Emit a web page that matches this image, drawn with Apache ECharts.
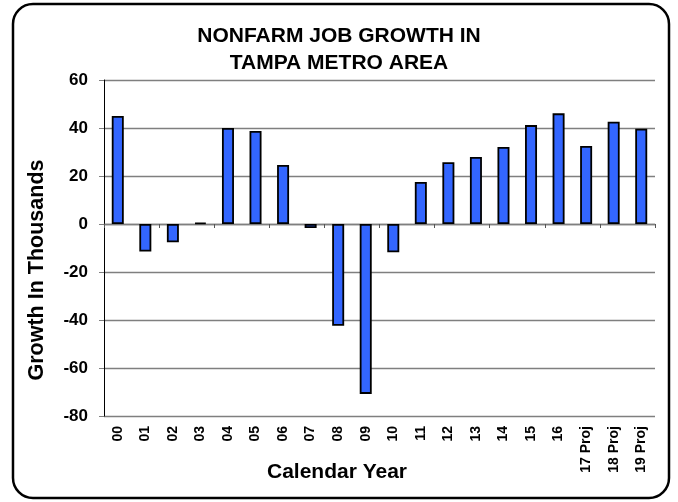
<!DOCTYPE html>
<html>
<head>
<meta charset="utf-8">
<script src="https://cdn.jsdelivr.net/npm/echarts@6/dist/echarts.min.js"></script>
<style>
html,body{margin:0;padding:0;background:#fff;}
#chart{width:678px;height:502px;}
</style>
</head>
<body>
<div id="chart"></div>
<script>
const categories = ['00','01','02','03','04','05','06','07','08','09','10','11','12','13','14','15','16','17 Proj','18 Proj','19 Proj'];
const jobGrowth = [45, -11.5, -7.6, 0.5, 40, 38.8, 24.6, -1.7, -42.4, -70.8, -11.8, 17.5, 25.7, 27.9, 32.1, 41.2, 46.1, 32.5, 42.6, 39.7];
const yTicks = [-80, -60, -40, -20, 0, 20, 40, 60];
const titleText = 'NONFARM JOB GROWTH IN\nTAMPA METRO AREA';
const xName = 'Calendar Year';
const yName = 'Growth In Thousands';

const FONT = '"Liberation Sans", Arial, sans-serif';
const chart = echarts.init(document.getElementById('chart'), null, {renderer: 'canvas'});
chart.setOption({
  backgroundColor: '#fff',
  animation: false,
  title: {
    text: titleText,
    left: 'center',
    top: 18,
    textStyle: {fontFamily: FONT, fontWeight: 'bold', fontSize: 21, lineHeight: 27, color: '#000'}
  },
  grid: {left: 104, right: 23, top: 80, bottom: 86, containLabel: false},
  xAxis: [
    {
      type: 'category',
      data: categories,
      position: 'bottom',
      axisLine: {show: false, onZero: false},
      axisTick: {show: false},
      axisLabel: {rotate: 90, interval: 0, margin: 10, fontFamily: FONT, fontWeight: 'bold', fontSize: 14, color: '#000'},
      splitLine: {show: false}
    },
    {
      type: 'category',
      data: categories,
      position: 'bottom',
      axisLine: {show: true, onZero: true, lineStyle: {color: '#7f7f7f', width: 1.3}},
      axisTick: {show: true, length: 4, lineStyle: {color: '#555', width: 1}},
      axisLabel: {show: false},
      splitLine: {show: false}
    }
  ],
  yAxis: {
    type: 'value',
    min: yTicks[0],
    max: yTicks[yTicks.length - 1],
    interval: yTicks[1] - yTicks[0],
    axisLine: {show: true, lineStyle: {color: '#000', width: 1}},
    axisTick: {show: true, length: 5, lineStyle: {color: '#7f7f7f', width: 1}},
    axisLabel: {margin: 16, fontFamily: FONT, fontWeight: 'bold', fontSize: 17, color: '#000'},
    splitLine: {show: true, lineStyle: {color: '#7f7f7f', width: 1.3}}
  },
  series: [{
    type: 'bar',
    xAxisIndex: 0,
    data: jobGrowth,
    barWidth: 12,
    itemStyle: {color: '#3366ff', borderColor: '#000', borderWidth: 1.8},
    z: 3
  }],
  graphic: [
    {
      type: 'rect',
      shape: {x: 13, y: 4, width: 656, height: 494, r: 20},
      style: {fill: 'none', stroke: '#000', lineWidth: 2.5},
      z: 10
    },
    {
      type: 'text',
      x: 337, y: 472,
      style: {text: xName, align: 'center', verticalAlign: 'middle', font: 'bold 21px ' + FONT, fill: '#000'}
    },
    {
      type: 'text',
      x: 37, y: 270,
      rotation: Math.PI / 2,
      style: {text: yName, align: 'center', verticalAlign: 'middle', font: 'bold 21.5px ' + FONT, fill: '#000'}
    }
  ]
});
</script>
</body>
</html>
